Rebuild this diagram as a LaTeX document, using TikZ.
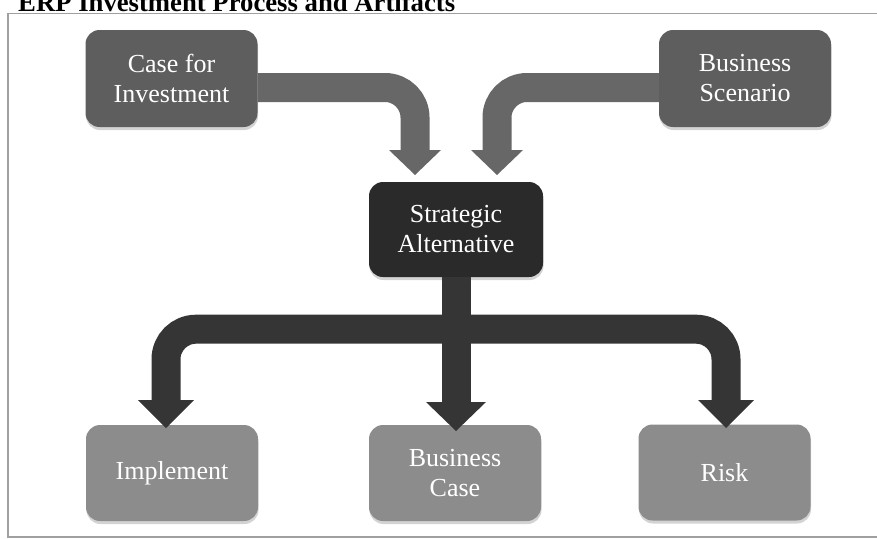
\documentclass[tikz,border=0pt]{standalone}
\usepackage{fontspec}
\setmainfont{Liberation Serif}
\usetikzlibrary{calc,shadows}
\definecolor{boxdark}{HTML}{5E5E5E}
\definecolor{arrowmid}{HTML}{676767}
\definecolor{stratfill}{HTML}{2A2A2A}
\definecolor{arrowdark}{HTML}{353535}
\definecolor{boxlight}{HTML}{8C8C8C}
\definecolor{framecol}{HTML}{A0A0A0}
\begin{document}
\begin{tikzpicture}[x=1pt,y=-1pt,
  box/.style={rounded corners=14pt, align=center, text=white,
    font=\fontsize{26}{30}\selectfont, inner sep=0pt,
    drop shadow={shadow xshift=0.5pt, shadow yshift=-3pt, opacity=0.35}},
  upperbox/.style={box, fill=boxdark, minimum width=172pt, minimum height=97pt},
  stratbox/.style={box, fill=stratfill, minimum width=174pt, minimum height=95pt},
  lowerbox/.style={box, fill=boxlight, minimum width=172pt, minimum height=96pt},
  upshaft/.style={draw=arrowmid, line width=29pt, rounded corners=30pt},
  downshaft/.style={draw=arrowdark, line width=29pt, rounded corners=30pt},
]
\useasboundingbox (0,0) rectangle (877,538);
% frame and title
\draw[framecol, line width=1.6pt] (8,13.5) rectangle (882,537);
\node[anchor=base west, inner sep=0pt, font=\fontsize{26.7}{30}\selectfont\bfseries] (title) at (18,11) {ERP Investment Process and Artifacts};

% boxes
\node[upperbox] (case) at (171.5,78.5) {Case for\\Investment};
\node[upperbox] (scen) at (745,78.5) {Business\\Scenario};
\node[stratbox] (strat) at (456,229.5) {Strategic\\Alternative};
\node[lowerbox] (impl) at (172,473) {Implement};
\node[lowerbox] (bcase) at (455,473) {Business\\Case};
\node[lowerbox] (risk) at (724.5,472.5) {Risk};

% arrow tips
\coordinate (tL) at (415,175);
\coordinate (tR) at (497,175);
\coordinate (tC) at (456,431);
\coordinate (tLL) at (166,428);
\coordinate (tRR) at (726,428);

% upper arrows
\draw[upshaft] ([yshift=-9pt]case.east) -| ($(tL)+(0,-24)$);
\fill[arrowmid] ($(tL)+(-26,-25)$) -- ($(tL)+(26,-25)$) -- (tL) -- cycle;
\draw[upshaft] ([yshift=-9pt]scen.west) -| ($(tR)+(0,-24)$);
\fill[arrowmid] ($(tR)+(-26,-25)$) -- ($(tR)+(26,-25)$) -- (tR) -- cycle;

% lower arrows
\draw[downshaft] ($(strat.south)+(0,52)$) -| ($(tLL)+(0,-27)$);
\draw[downshaft] ($(strat.south)+(0,52)$) -| ($(tRR)+(0,-27)$);
\draw[downshaft] (strat.south) -- ($(tC)+(0,-28)$);
\fill[arrowdark] ($(tLL)+(-28,-28)$) -- ($(tLL)+(28,-28)$) -- (tLL) -- cycle;
\fill[arrowdark] ($(tRR)+(-28,-28)$) -- ($(tRR)+(28,-28)$) -- (tRR) -- cycle;
\fill[arrowdark] ($(tC)+(-30,-29)$) -- ($(tC)+(30,-29)$) -- (tC) -- cycle;
\end{tikzpicture}
\end{document}
